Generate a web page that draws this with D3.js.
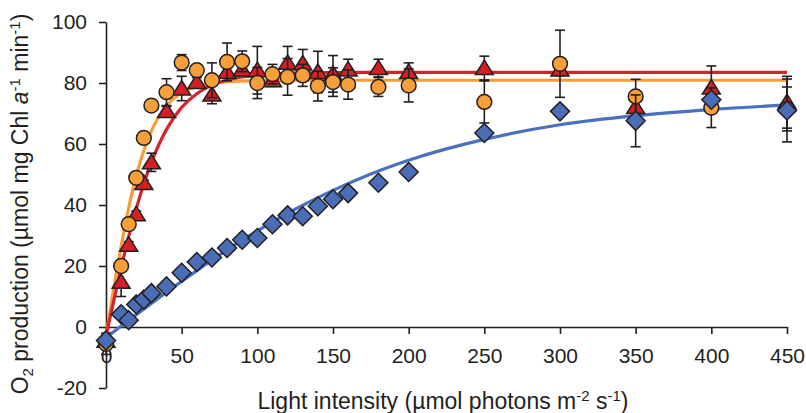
<!DOCTYPE html>
<html>
<head>
<meta charset="utf-8">
<script src="https://cdn.jsdelivr.net/npm/d3@7"></script>
<style>
  html, body { margin: 0; padding: 0; background: #fff; }
  svg { display: block; font-family: "Liberation Sans", Arial, Helvetica, sans-serif; }
</style>
</head>
<body>
<svg id="chart" width="806" height="413"></svg>
<script>
// Light intensity (µmol photons m-2 s-1) at which O2 evolution was measured
const light = [0, 10, 15, 20, 25, 30, 40, 50, 60, 70, 80, 90, 100, 110, 120, 130, 140, 150, 160, 180, 200, 250, 300, 350, 400, 450];

// Red triangles
const redMean = [-4.5, 14.8, 27, 37, 47.2, 54, 70.8, 78.2, 80.3, 76.2, 83.6, 84.4, 84.2, 80.9, 86.6, 86.4, 83.6, 83, 84.4, 84.9, 83.6, 84.9, 84.4, 72.1, 78.5, 73.7];
const redErr  = [0, 4.8, 1, 1, 1, 3, 1.5, 4, 1.5, 3, 1.5, 1.5, 7.8, 2, 5.4, 4.6, 6.8, 6, 3.4, 2.9, 3, 3.9, 2, 2, 7.1, 8.5];

// Orange circles
const orangeMean = [-5.5, 20, 33.7, 48.9, 62, 72.6, 77, 86.7, 84.2, 80.9, 86.9, 87.1, 80, 82.9, 82, 82.5, 79, 80.3, 79.5, 78.7, 79.2, 73.8, 86.3, 75.6, 71.9, 71.5];
const orangeErr  = [3.5, 0, 0, 0, 0, 0, 4.4, 2.6, 1.5, 5.7, 6.2, 3.4, 5.1, 3.2, 6, 3.6, 4.9, 4.7, 4.8, 3.1, 5.4, 6.9, 11, 5.6, 6.5, 7.2];

// Blue diamonds
const blueMean = [-4.4, 4.2, 2.2, 7.4, 9, 11.1, 13.3, 17.8, 21.3, 22.8, 25.9, 28.6, 29.2, 33.7, 36.6, 36.3, 39.6, 41.9, 43.9, 47.3, 50.8, 63.6, 70.7, 67.6, 74.5, 71];
const blueErr  = [1, 1, 1, 1, 1, 1, 1, 1, 1, 1, 1, 1, 1, 1, 1, 1, 1, 1, 1, 1, 1, 1, 1, 8.5, 1.5, 10.3];

// Fitted light-response curves
const fastFitX   = [0, 5, 10, 15, 20, 25, 30, 40, 50, 60, 70, 80, 100, 120, 150, 200, 300, 450];
const redFit     = [-3, 8.3, 19.3, 29.6, 38.8, 47.0, 54.0, 64.8, 72.0, 76.5, 79.3, 81.0, 82.6, 83.2, 83.4, 83.5, 83.5, 83.5];
const orangeFit  = [-3, 12.3, 26.5, 39.1, 49.6, 57.9, 64.3, 72.5, 76.8, 78.9, 79.9, 80.4, 80.8, 80.9, 80.9, 80.9, 80.9, 80.9];
const blueFitX   = [0, 10, 20, 40, 60, 80, 100, 125, 150, 175, 200, 250, 300, 350, 400, 450];
const blueFit    = [-3.5, 0.3, 4.0, 11.4, 18.5, 25.3, 31.5, 38.6, 44.8, 50.2, 54.7, 61.5, 66.3, 69.3, 71.3, 72.8];

const xTicks = [0, 50, 100, 150, 200, 250, 300, 350, 400, 450];
const yTicks = [-20, 0, 20, 40, 60, 80, 100];

const ink = "#231f20";
const colors = { red: "#d51f26", orange: "#f89f3a", blue: "#4a6db8" };
const lineColors = { red: "#d6232a", orange: "#f79d38", blue: "#4a70be" };

const svg = d3.select("#chart");
const x = d3.scaleLinear().domain([0, 450]).range([106, 787]);
const y = d3.scaleLinear().domain([-20, 100]).range([388, 22]);

// Axes
const yAxis = d3.axisLeft(y).tickValues(yTicks).tickFormat(d => String(d))
  .tickSize(7).tickSizeOuter(0).tickPadding(12);
const gy = svg.append("g").attr("transform", `translate(${x(0)},0)`).call(yAxis);
const xAxis = d3.axisBottom(x).tickValues(xTicks).tickFormat(d => String(d))
  .tickSize(7).tickSizeOuter(0).tickPadding(14);
const gx = svg.append("g").attr("transform", `translate(0,${y(0)})`).call(xAxis);

[gx, gy].forEach(g => {
  g.select(".domain").attr("stroke", ink).attr("stroke-width", 1.6);
  g.selectAll(".tick line").attr("stroke", ink).attr("stroke-width", 1.6);
  g.selectAll(".tick text").attr("fill", "#231f20").style("font-size", "21px")
    .style("font-family", "Liberation Sans, Arial, sans-serif");
});

// Axis titles
svg.append("text")
  .attr("x", 443).attr("y", 409)
  .attr("text-anchor", "middle")
  .attr("fill", ink)
  .style("font-size", "23px")
  .call(t => {
    t.append("tspan").text("Light intensity (µmol photons m");
    t.append("tspan").attr("dy", -8).style("font-size", "15px").text("-2");
    t.append("tspan").attr("dy", 8).text(" s");
    t.append("tspan").attr("dy", -8).style("font-size", "15px").text("-1");
    t.append("tspan").attr("dy", 8).text(")");
  });

svg.append("text")
  .attr("transform", "translate(28,204) rotate(-90)")
  .attr("text-anchor", "middle")
  .attr("fill", ink)
  .style("font-size", "23px")
  .call(t => {
    t.append("tspan").text("O");
    t.append("tspan").attr("dy", 5).style("font-size", "15px").text("2");
    t.append("tspan").attr("dy", -5).text(" production (µmol mg Chl ");
    t.append("tspan").style("font-style", "italic").text("a");
    t.append("tspan").attr("dy", -8).style("font-size", "15px").text("-1");
    t.append("tspan").attr("dy", 8).text(" min");
    t.append("tspan").attr("dy", -8).style("font-size", "15px").text("-1");
    t.append("tspan").attr("dy", 8).text(")");
  });

// Fitted curves
const line = d3.line().x(d => x(d[0])).y(d => y(d[1])).curve(d3.curveMonotoneX);
const curves = [
  { xs: blueFitX, ys: blueFit, color: lineColors.blue },
  { xs: fastFitX, ys: orangeFit, color: lineColors.orange },
  { xs: fastFitX, ys: redFit, color: lineColors.red }
];
curves.forEach(c => {
  svg.append("path")
    .datum(c.xs.map((v, i) => [v, c.ys[i]]))
    .attr("d", line)
    .attr("fill", "none")
    .attr("stroke", c.color)
    .attr("stroke-width", 3.2);
});

// Symbols
const triPath = "M0,-8L9,6.5L-9,6.5Z";
const diamondPath = "M0,-9.5L9.5,0L0,9.5L-9.5,0Z";

const series = [
  { mean: redMean, err: redErr, fill: colors.red, shape: "tri" },
  { mean: orangeMean, err: orangeErr, fill: colors.orange, shape: "circle" },
  { mean: blueMean, err: blueErr, fill: colors.blue, shape: "diamond" }
];

series.forEach(s => {
  const pts = light.map((lx, i) => ({ lx, m: s.mean[i], e: s.err[i] }));
  const bars = svg.append("g").attr("stroke", ink).attr("stroke-width", 1.6);
  pts.filter(p => p.e > 0).forEach(p => {
    const cx = x(p.lx), y1 = y(p.m + p.e), y0 = y(p.m - p.e);
    bars.append("line").attr("x1", cx).attr("x2", cx).attr("y1", y1).attr("y2", y0);
    bars.append("line").attr("x1", cx - 5).attr("x2", cx + 5).attr("y1", y1).attr("y2", y1);
    bars.append("line").attr("x1", cx - 5).attr("x2", cx + 5).attr("y1", y0).attr("y2", y0);
  });
  const g = svg.append("g");
  pts.forEach(p => {
    const cx = x(p.lx), cy = y(p.m);
    if (s.shape === "circle") {
      g.append("circle").attr("cx", cx).attr("cy", cy).attr("r", 7.4)
        .attr("fill", s.fill).attr("stroke", ink).attr("stroke-width", 1.5);
    } else {
      g.append("path").attr("d", s.shape === "tri" ? triPath : diamondPath)
        .attr("transform", `translate(${cx},${cy})`)
        .attr("fill", s.fill).attr("stroke", ink).attr("stroke-width", 1.5)
        .attr("stroke-linejoin", "miter");
    }
  });
});
</script>
</body>
</html>
